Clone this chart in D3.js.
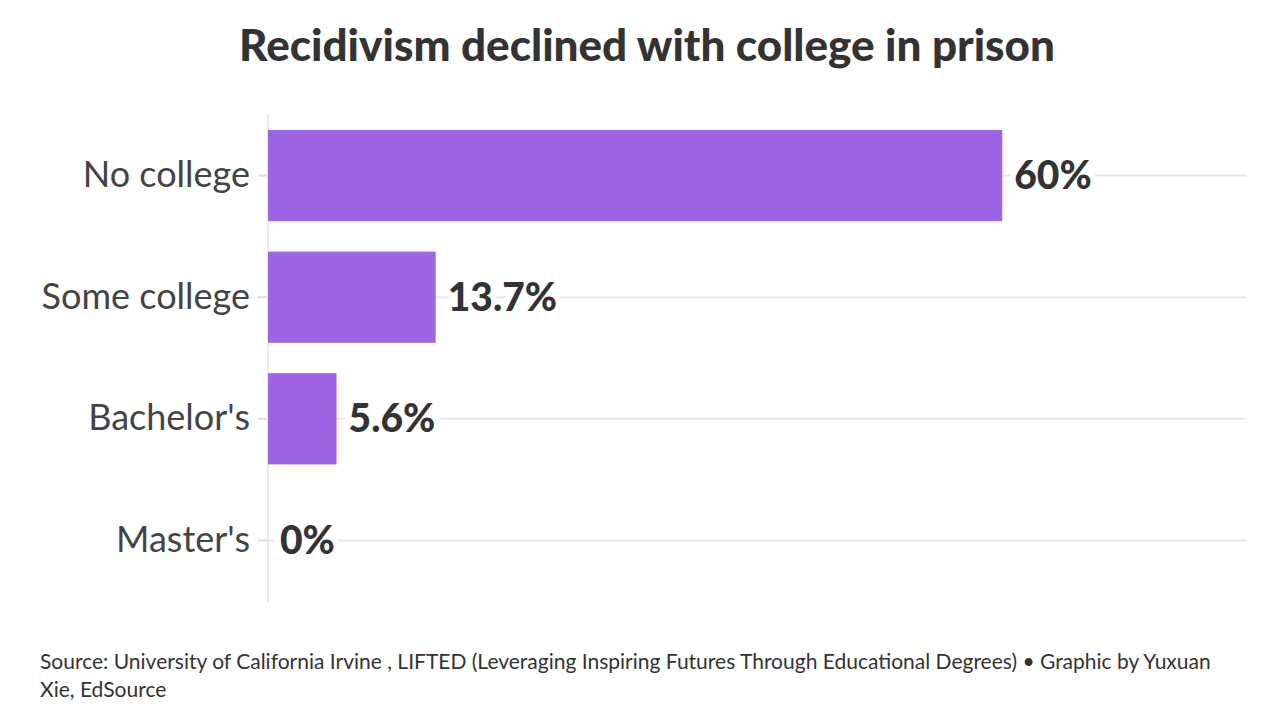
<!DOCTYPE html>
<html>
<head>
<meta charset="utf-8">
<script src="https://cdn.jsdelivr.net/npm/d3@7"></script>
<style>
  body { margin: 0; background: #fff; }
  svg { display: block; font-family: Lato, "Noto Sans", sans-serif; }
</style>
</head>
<body>
<svg id="chart" width="1280" height="720"></svg>
<script>
const categories = ["No college", "Some college", "Bachelor's", "Master's"];
const values = [60, 13.7, 5.6, 0];
const valueLabels = ["60%", "13.7%", "5.6%", "0%"];
const title = "Recidivism declined with college in prison";
const sourceLines = [
    "Source: University of California Irvine , LIFTED (Leveraging Inspiring Futures Through Educational Degrees) \u2022 Graphic by Yuxuan",
    "Xie, EdSource"
];

const BAR_COLOR = "#9d64e4";
const TEXT_COLOR = "#333333";

const data = categories.map((c, i) => ({ name: c, value: values[i], label: valueLabels[i] }));

let svg = d3.select("#chart");

let area = {
    left: 268,
    right: 1247,
    top: 114,
    bottom: 602
}

svg.append("text")
    .attr("x", 647)
    .attr("y", 61)
    .attr("text-anchor", "middle")
    .style("font-size", "44px")
    .style("font-weight", "900")
    .style("fill", TEXT_COLOR)
    .text(title);

let scaleX = d3.scaleLinear()
    .domain([0, 80])
    .range([area.left, area.right]);

let scaleY = d3.scaleBand()
    .domain(categories)
    .range([130, 586])
    .paddingInner(0.25)
    .paddingOuter(0);

// grid lines at each category
svg.append("g")
    .selectAll("line")
    .data(data)
    .enter()
    .append("line")
    .attr("x1", area.left)
    .attr("x2", area.right)
    .attr("y1", d => scaleY(d.name) + scaleY.bandwidth() / 2)
    .attr("y2", d => scaleY(d.name) + scaleY.bandwidth() / 2)
    .style("stroke", "#e8e8e8")
    .style("stroke-width", 2);

// y axis
let axisY = d3.axisLeft(scaleY).tickSize(9).tickPadding(8);
let gY = svg.append("g")
    .attr("transform", `translate(${area.left - 1}, 0)`)
    .call(axisY);
gY.select(".domain").remove();
gY.selectAll(".tick line").style("stroke", "#dddddd").style("stroke-width", 2);
gY.selectAll(".tick text")
    .style("font-size", "36px")
    .style("font-family", "Lato, 'Noto Sans', sans-serif")
    .style("fill", "#444444");

svg.append("line")
    .attr("x1", area.left)
    .attr("x2", area.left)
    .attr("y1", area.top)
    .attr("y2", area.bottom)
    .style("stroke", "#eaeaea")
    .style("stroke-width", 2);

// bars
svg.append("g")
    .selectAll("rect")
    .data(data)
    .enter()
    .append("rect")
    .attr("x", scaleX(0))
    .attr("y", d => scaleY(d.name))
    .attr("width", d => scaleX(d.value) - scaleX(0))
    .attr("height", scaleY.bandwidth())
    .style("fill", BAR_COLOR);

// value labels
svg.append("g")
    .selectAll("text")
    .data(data)
    .enter()
    .append("text")
    .attr("x", d => scaleX(d.value) + 12)
    .attr("y", d => scaleY(d.name) + scaleY.bandwidth() / 2)
    .attr("dy", "0.35em")
    .style("font-size", "39px")
    .style("font-weight", "900")
    .style("fill", TEXT_COLOR)
    .style("stroke", "#fff")
    .style("stroke-width", 12)
    .style("paint-order", "stroke")
    .text(d => d.label);

// footer
svg.append("g")
    .selectAll("text")
    .data(sourceLines)
    .enter()
    .append("text")
    .attr("x", 40)
    .attr("y", (d, i) => 669 + i * 28)
    .style("font-size", "21px")
    .style("fill", TEXT_COLOR)
    .text(d => d);
</script>
</body>
</html>
